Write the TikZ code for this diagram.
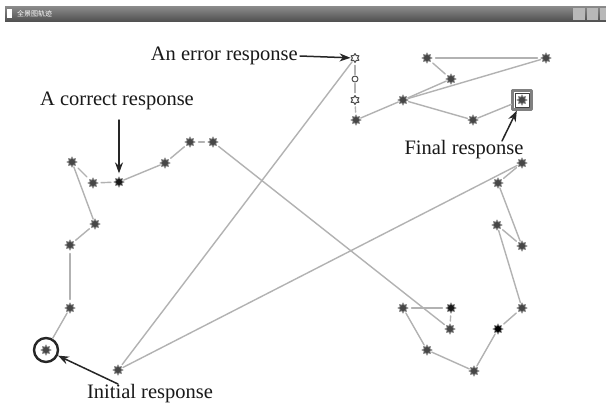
\documentclass[tikz,border=0pt]{standalone}
\usepackage{fontspec}
\setmainfont{Liberation Serif}
\newfontfamily\cjk{Noto Sans CJK SC}
\usetikzlibrary{shapes.geometric,arrows.meta}
\tikzset{
  trail/.style={draw=black!30, line width=1.4pt},
  resp/.style={star, star points=8, star point ratio=1.7, minimum size=10.5pt, inner sep=0pt,
    fill=black!72, draw=black!40, line width=0.6pt, outer sep=1.5pt},
  hollow/.style={star, star points=6, star point ratio=1.7, minimum size=9pt, inner sep=0pt,
    draw=black!70, fill=white, line width=1pt, outer sep=1.5pt},
  pointer/.style={draw=black!85, line width=1.5pt, -{Stealth[length=11pt,width=8pt]}},
  callout/.style={inner sep=0pt, text=black!90, font=\fontsize{20.5}{24}\selectfont}
}
\begin{document}
\begin{tikzpicture}[x=1pt, y=-1pt, line join=round, line cap=round]
  \useasboundingbox[fill=white] (0,0) rectangle (606,408);
  % window title bar
  \shade[top color=black!45, bottom color=black!68] (5,6) rectangle (606,21);
  \fill[white] (7,9) rectangle (12,18);
  \node[anchor=west, inner sep=0pt, text=white, font=\cjk\fontsize{7}{7}\selectfont] (title) at (17,13.5) {全景图轨迹};
  \fill[black!28] (573,8) rectangle (585,20);
  \fill[black!28] (587,8) rectangle (598,20);
  \fill[black!28] (600,8) rectangle (606,20);
  % responses
  \node[resp] (p1) at (46,350) {};
  \node[draw=black!85, line width=2.4pt, circle, minimum size=24pt, inner sep=0pt] (init) at (p1) {};
  \node[resp] (p2) at (70,308) {};
  \node[resp] (p3) at (70,245) {};
  \node[resp] (p4) at (95,224) {};
  \node[resp] (p5) at (72,162) {};
  \node[resp] (p6) at (93,183) {};
  \node[resp, fill=black!90] (p7) at (119,182) {};
  \node[resp] (p8) at (165,163) {};
  \node[resp] (p9) at (190,142) {};
  \node[resp] (p10) at (213,142) {};
  \node[resp] (p11) at (450,329) {};
  \node[resp, fill=black!90] (p12) at (451,308) {};
  \node[resp] (p13) at (403,308) {};
  \node[resp] (p14) at (427,350) {};
  \node[resp] (p15) at (474,371) {};
  \node[resp, fill=black] (p16) at (498,329) {};
  \node[resp] (p17) at (522,308) {};
  \node[resp] (p18) at (497,225) {};
  \node[resp] (p19) at (522,246) {};
  \node[resp] (p20) at (498,183) {};
  \node[resp] (p21) at (522,163) {};
  \node[resp] (p22) at (118,370) {};
  \node[hollow] (p23) at (355,58) {};
  \node[circle, draw=black!70, fill=white, line width=1pt, minimum size=6pt, inner sep=0pt, outer sep=1.5pt] (p24) at (355,79) {};
  \node[hollow] (p25) at (355,100) {};
  \node[resp] (p26) at (356,120) {};
  \node[resp] (p27) at (403,100) {};
  \node[resp] (p28) at (451,79) {};
  \node[resp] (p29) at (427,58) {};
  \node[resp] (p30) at (546,58) {};
  \node[resp] (p32) at (473,120) {};
  \node[resp] (p33) at (522,100) {};
  \node[draw=black!50, line width=2.2pt, minimum size=19pt, inner sep=0pt] (fin) at (p33) {};
  \node[draw=black!75, line width=0.6pt, minimum size=14pt, inner sep=0pt] at (p33) {};
  % trajectory
  \foreach \a/\b in {init/p2, p2/p3, p3/p4, p4/p5, p5/p6, p6/p7, p7/p8, p8/p9, p9/p10,
      p10/p11, p11/p12, p12/p13, p13/p14, p14/p15, p15/p16, p16/p17, p17/p18, p18/p19,
      p19/p20, p20/p21, p21/p22, p22/p23, p23/p24, p24/p25, p25/p26, p26/p27, p27/p28,
      p28/p29, p29/p30, p30/p27, p27/p32, p32/fin}
    \draw[trail] (\a) -- (\b);
  % labels
  \node[callout, anchor=east] (terr) at (298,56) {An error response};
  \node[callout] (tcor) at (117,101) {A correct response};
  \node[callout] (tfin) at (464,150) {Final response};
  \node[callout] (tini) at (150,394) {Initial response};
  \coordinate (ca) at (119,120);
  \coordinate (fa) at (502,141);
  \coordinate (ia) at (118,384);
  \draw[pointer] ([xshift=2pt]terr.east) -- (p23);
  \draw[pointer] (ca) -- (p7);
  \draw[pointer] (fa) -- (fin);
  \draw[pointer] (ia) -- (init);
\end{tikzpicture}
\end{document}
